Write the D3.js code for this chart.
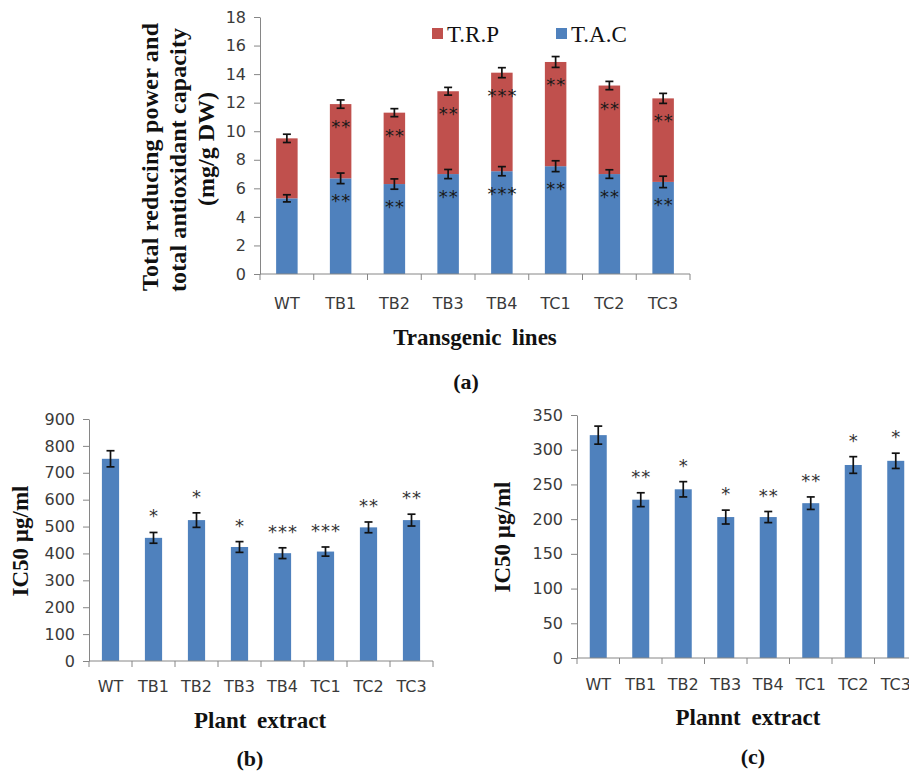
<!DOCTYPE html>
<html>
<head>
<meta charset="utf-8">
<script src="https://cdn.jsdelivr.net/npm/d3@7"></script>
<style>
  body { margin: 0; background: #fff; }
  svg { display: block; background: #fff; }
  .tick text { font-family: "DejaVu Sans", Verdana, sans-serif; font-size: 16px; fill: #3a3a3a; }
  .serif { font-family: "Liberation Serif", "Times New Roman", serif; fill: #111; }
  .sig { font-family: "DejaVu Sans", Verdana, sans-serif; font-size: 18px; letter-spacing: 1px; }
</style>
</head>
<body>
<svg id="chart" width="909" height="771"></svg>
<script>
const lines = ["WT", "TB1", "TB2", "TB3", "TB4", "TC1", "TC2", "TC3"]

// (a) stacked bars, mg/g DW
const tac = [5.3, 6.7, 6.3, 7.0, 7.2, 7.55, 7.0, 6.45]
const tacErr = [0.25, 0.37, 0.36, 0.32, 0.32, 0.38, 0.3, 0.4]
const trp = [4.2, 5.2, 5.0, 5.8, 6.9, 7.3, 6.2, 5.85]
const trpErr = [0.29, 0.29, 0.28, 0.27, 0.35, 0.38, 0.29, 0.35]
const tacSig = ["", "**", "**", "**", "***", "**", "**", "**"]
const trpSig = ["", "**", "**", "**", "***", "**", "**", "**"]
const ticksA = [0, 2, 4, 6, 8, 10, 12, 14, 16, 18]

// (b) IC50 ug/ml
const icB = [752, 458, 524, 424, 401, 407, 497, 524]
const icBErr = [30, 20, 27, 20, 20, 17, 20, 22]
const sigB = ["", "*", "*", "*", "***", "***", "**", "**"]
const ticksB = [0, 100, 200, 300, 400, 500, 600, 700, 800, 900]

// (c) IC50 ug/ml
const icC = [321, 228, 243, 203, 203, 223, 278, 284]
const icCErr = [13, 10, 11, 10, 8, 9, 12, 11]
const sigC = ["", "**", "*", "*", "**", "**", "*", "*"]
const ticksC = [0, 50, 100, 150, 200, 250, 300, 350]

const blue = "#4f81bd"
const red = "#c0504d"
const axisColor = "#868686"

const svg = d3.select("#chart")

const makeAxes = (g, x, y, ticks, labelPad) => {
  const y0 = y(0)
  const yAxis = g.append("g")
    .attr("transform", `translate(${x.range()[0]},0)`)
    .call(d3.axisLeft(y).tickValues(ticks).tickSize(6).tickSizeOuter(0).tickPadding(8))
  yAxis.select(".domain").attr("stroke", axisColor)
  yAxis.selectAll(".tick line").attr("stroke", axisColor)

  const [x0, x1] = x.range()
  g.append("line")
    .attr("x1", x0).attr("x2", x1)
    .attr("y1", y0).attr("y2", y0)
    .attr("stroke", axisColor)

  const edges = x.domain().map(d => x(d) - x.step() * x.paddingInner() / 2)
  edges.push(x1)
  g.selectAll("line.edge").data(edges).join("line")
    .attr("class", "edge")
    .attr("x1", d => d).attr("x2", d => d)
    .attr("y1", y0).attr("y2", y0 + 6)
    .attr("stroke", axisColor)

  const xAxis = g.append("g")
    .attr("transform", `translate(0,${y0})`)
    .call(d3.axisBottom(x).tickSize(0).tickPadding(labelPad))
  xAxis.select(".domain").remove()
}

const errorBars = (g, x, y, vals, errs, base) => {
  const cap = 4
  const eg = g.append("g").attr("stroke", "#111").attr("stroke-width", 1.7)
  lines.forEach((d, i) => {
    const cx = x(d) + x.bandwidth() / 2
    const top = base[i] + vals[i] + errs[i]
    const bot = base[i] + vals[i] - errs[i]
    eg.append("line").attr("x1", cx).attr("x2", cx).attr("y1", y(top)).attr("y2", y(bot))
    eg.append("line").attr("x1", cx - cap).attr("x2", cx + cap).attr("y1", y(top)).attr("y2", y(top))
    eg.append("line").attr("x1", cx - cap).attr("x2", cx + cap).attr("y1", y(bot)).attr("y2", y(bot))
  })
}

const rotLabel = (px, py, txt, size, len) => {
  const t = svg.append("text")
    .attr("class", "serif")
    .attr("transform", `translate(${px},${py}) rotate(-90)`)
    .attr("text-anchor", "middle")
    .attr("font-weight", "bold")
    .attr("font-size", size)
    .text(txt)
  if (len) t.attr("textLength", len).attr("lengthAdjust", "spacing")
}

const caption = (px, py, txt, size) => {
  svg.append("text")
    .attr("class", "serif")
    .attr("x", px).attr("y", py)
    .attr("text-anchor", "middle")
    .attr("font-weight", "bold")
    .attr("font-size", size)
    .attr("word-spacing", 5)
    .text(txt)
}

// ---- panel (a)
{
  const g = svg.append("g")
  const x = d3.scaleBand().domain(lines).range([260, 690]).paddingInner(0.6).paddingOuter(0.3)
  const y = d3.scaleLinear().domain([0, 18]).range([274, 17])
  const zeros = lines.map(() => 0)

  g.selectAll("rect.tac").data(lines).join("rect")
    .attr("class", "tac")
    .attr("x", d => x(d)).attr("width", x.bandwidth())
    .attr("y", (d, i) => y(tac[i]))
    .attr("height", (d, i) => y(0) - y(tac[i]))
    .attr("fill", blue)

  g.selectAll("rect.trp").data(lines).join("rect")
    .attr("class", "trp")
    .attr("x", d => x(d)).attr("width", x.bandwidth())
    .attr("y", (d, i) => y(tac[i] + trp[i]))
    .attr("height", (d, i) => y(tac[i]) - y(tac[i] + trp[i]))
    .attr("fill", red)

  makeAxes(g, x, y, ticksA, 24)
  errorBars(g, x, y, tac, tacErr, zeros)
  errorBars(g, x, y, trp, trpErr, tac)

  g.selectAll("text.sigtac").data(lines).join("text")
    .attr("class", "sig sigtac")
    .attr("x", d => x(d) + x.bandwidth() / 2 + 0.5)
    .attr("y", (d, i) => y(tac[i]) + 29)
    .attr("text-anchor", "middle")
    .attr("fill", "#1a1a1a")
    .text((d, i) => tacSig[i])

  g.selectAll("text.sigtrp").data(lines).join("text")
    .attr("class", "sig sigtrp")
    .attr("x", d => x(d) + x.bandwidth() / 2 + 0.5)
    .attr("y", (d, i) => y(tac[i] + trp[i]) + 29)
    .attr("text-anchor", "middle")
    .attr("fill", "#1a1a1a")
    .text((d, i) => trpSig[i])

  const legend = [["T.R.P", red, 432], ["T.A.C", blue, 556]]
  legend.forEach(([name, col, lx]) => {
    svg.append("rect").attr("x", lx).attr("y", 28).attr("width", 11).attr("height", 11).attr("fill", col)
    svg.append("text").attr("class", "serif")
      .attr("x", lx + 15).attr("y", 42)
      .attr("font-size", 23)
      .text(name)
  })

  rotLabel(158, 157, "Total reducing power and", 24, 268)
  rotLabel(186, 160, "total antioxidant capacity", 24, 264)
  rotLabel(214, 149, "(mg/g DW)", 24)
  caption(475, 345, "Transgenic lines", 23)
  caption(466, 389, "(a)", 22)
}

// ---- panels (b) and (c)
const simplePanel = (range, yRange, domain, ticks, vals, errs, sig, labelPad) => {
  const g = svg.append("g")
  const x = d3.scaleBand().domain(lines).range(range).paddingInner(0.6).paddingOuter(0.3)
  const y = d3.scaleLinear().domain(domain).range(yRange)

  g.selectAll("rect.bar").data(lines).join("rect")
    .attr("class", "bar")
    .attr("x", d => x(d)).attr("width", x.bandwidth())
    .attr("y", (d, i) => y(vals[i]))
    .attr("height", (d, i) => y(0) - y(vals[i]))
    .attr("fill", blue)

  makeAxes(g, x, y, ticks, labelPad)
  errorBars(g, x, y, vals, errs, lines.map(() => 0))

  g.selectAll("text.sig").data(lines).join("text")
    .attr("class", "sig")
    .attr("x", d => x(d) + x.bandwidth() / 2 + 0.5)
    .attr("y", (d, i) => y(vals[i] + errs[i]) - 10)
    .attr("text-anchor", "middle")
    .attr("fill", "#333")
    .text((d, i) => sig[i])
}

simplePanel([89, 433], [661, 419], [0, 900], ticksB, icB, icBErr, sigB, 20)
rotLabel(28, 541, "IC50 µg/ml", 23)
caption(260, 728, "Plant extract", 23)
caption(250, 766, "(b)", 22)

simplePanel([577, 917], [658, 415], [0, 350], ticksC, icC, icCErr, sigC, 21)
rotLabel(510, 537, "IC50 µg/ml", 23)
caption(748, 725, "Plannt extract", 23)
caption(753, 764, "(c)", 22)
</script>
</body>
</html>
